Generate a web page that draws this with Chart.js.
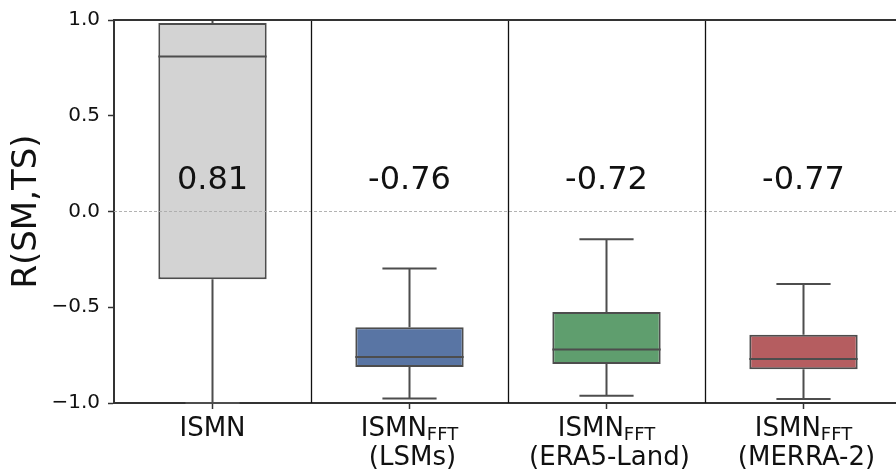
<!DOCTYPE html>
<html>
<head>
<meta charset="utf-8">
<script src="https://cdn.jsdelivr.net/npm/chart.js@4.4.0/dist/chart.umd.min.js"></script>
<style>
  html, body { margin: 0; padding: 0; background: #fff; overflow: hidden; }
  #wrap { width: 904px; height: 475px; }
</style>
</head>
<body>
<div id="wrap"><canvas id="chart" width="904" height="475"></canvas></div>
<script>
// box plot data
const categories = ['ISMN', 'ISMN', 'ISMN', 'ISMN'];
const subscripts = ['', 'FFT', 'FFT', 'FFT'];
const sources = ['', '(LSMs)', '(ERA5-Land)', '(MERRA-2)'];
const whiskerLow = [-1.0, -0.977, -0.962, -0.979];
const q1 = [-0.354, -0.812, -0.796, -0.824];
const medians = [0.81, -0.76, -0.72, -0.77];
const q3 = [0.984, -0.605, -0.525, -0.644];
const whiskerHigh = [1.0, -0.297, -0.145, -0.378];
const yTicks = [-1.0, -0.5, 0.0, 0.5, 1.0];

const boxColors = ['#d3d3d3', '#5975a4', '#5f9e6e', '#b55d60'];
const lineColor = '#4d4d4d';
const axisColor = '#333333';
const family = '"DejaVu Sans", sans-serif';
const annotY = 0.115; // baseline of the median labels, in data units

const boxPlot = {
  id: 'boxPlot',
  afterDatasetsDraw(chart) {
    const { ctx, chartArea, scales: { x, y } } = chart;
    const bars = chart.getDatasetMeta(0).data;
    ctx.save();

    // whiskers, caps and medians
    ctx.strokeStyle = lineColor;
    ctx.lineWidth = 2;
    bars.forEach((bar, i) => {
      const bx = bar.x, bw = bar.width;
      ctx.beginPath();
      ctx.moveTo(bx, y.getPixelForValue(q3[i]));
      ctx.lineTo(bx, y.getPixelForValue(whiskerHigh[i]));
      ctx.moveTo(bx - bw / 4, y.getPixelForValue(whiskerHigh[i]));
      ctx.lineTo(bx + bw / 4, y.getPixelForValue(whiskerHigh[i]));
      ctx.moveTo(bx, y.getPixelForValue(q1[i]));
      ctx.lineTo(bx, y.getPixelForValue(whiskerLow[i]));
      ctx.moveTo(bx - bw / 4, y.getPixelForValue(whiskerLow[i]));
      ctx.lineTo(bx + bw / 4, y.getPixelForValue(whiskerLow[i]));
      ctx.moveTo(bx - bw / 2, y.getPixelForValue(medians[i]));
      ctx.lineTo(bx + bw / 2, y.getPixelForValue(medians[i]));
      ctx.stroke();
    });

    // dashed zero line
    ctx.strokeStyle = '#aaaaaa';
    ctx.lineWidth = 0.9;
    ctx.setLineDash([3, 2]);
    ctx.beginPath();
    ctx.moveTo(chartArea.left, y.getPixelForValue(0));
    ctx.lineTo(chartArea.right, y.getPixelForValue(0));
    ctx.stroke();
    ctx.setLineDash([]);

    // separators between groups
    ctx.strokeStyle = '#111111';
    ctx.lineWidth = 1.3;
    for (let i = 0; i < categories.length; i++) {
      const sx = Math.round(x.getPixelForValue(i + 0.5)) + 0.5;
      ctx.beginPath();
      ctx.moveTo(sx, chartArea.top);
      ctx.lineTo(sx, chartArea.bottom);
      ctx.stroke();
    }

    // top spine
    ctx.strokeStyle = axisColor;
    ctx.lineWidth = 2;
    ctx.beginPath();
    ctx.moveTo(chartArea.left, chartArea.top);
    ctx.lineTo(chartArea.right, chartArea.top);
    ctx.stroke();

    // median labels
    ctx.fillStyle = '#111111';
    ctx.font = '32px ' + family;
    ctx.textAlign = 'center';
    ctx.textBaseline = 'alphabetic';
    medians.forEach((m, i) => {
      ctx.fillText(m.toFixed(2), x.getPixelForValue(i), y.getPixelForValue(annotY));
    });
    ctx.restore();
  },
  afterDraw(chart) {
    const { ctx, chartArea, scales: { x } } = chart;
    ctx.save();
    ctx.fillStyle = '#111111';
    ctx.textBaseline = 'alphabetic';
    categories.forEach((c, i) => {
      const cx = x.getPixelForValue(i);
      ctx.font = '26px ' + family;
      const wMain = ctx.measureText(c).width;
      ctx.font = '18px ' + family;
      const wSub = subscripts[i] ? ctx.measureText(subscripts[i]).width : 0;
      const start = cx - (wMain + wSub) / 2;
      ctx.textAlign = 'left';
      ctx.font = '26px ' + family;
      ctx.fillText(c, start, chartArea.bottom + 33);
      if (subscripts[i]) {
        ctx.font = '18px ' + family;
        ctx.fillText(subscripts[i], start + wMain, chartArea.bottom + 37);
      }
      if (sources[i]) {
        ctx.font = '26px ' + family;
        ctx.textAlign = 'center';
        ctx.fillText(sources[i], cx + 3, chartArea.bottom + 62);
      }
    });
    ctx.restore();
  }
};

const ctx = document.getElementById('chart').getContext('2d');
new Chart(ctx, {
  type: 'bar',
  data: {
    labels: categories.map((c, i) => (c + subscripts[i] + ' ' + sources[i]).trim()),
    datasets: [{
      data: q1.map((v, i) => [v, q3[i]]),
      backgroundColor: boxColors,
      borderColor: lineColor,
      borderWidth: 2,
      borderSkipped: false,
      barPercentage: 0.55,
      categoryPercentage: 1.0
    }]
  },
  options: {
    responsive: false,
    animation: false,
    events: [],
    layout: { padding: { top: 17, right: 2, left: 0, bottom: 0 } },
    plugins: { legend: { display: false }, tooltip: { enabled: false } },
    scales: {
      x: {
        afterFit: s => { s.height = 72; },
        grid: { offset: false, drawOnChartArea: false, tickLength: 6, tickColor: axisColor, tickWidth: 1.5 },
        border: { color: axisColor, width: 2 },
        ticks: { display: false }
      },
      y: {
        min: -1,
        max: 1,
        afterFit: s => { s.width = 114; },
        afterBuildTicks: s => { s.ticks = yTicks.map(v => ({ value: v })); },
        grid: { drawOnChartArea: false, tickLength: 6, tickColor: axisColor, tickWidth: 1.5 },
        border: { color: axisColor, width: 2 },
        ticks: {
          font: { family: family, size: 20 },
          color: '#111111',
          padding: 8,
          callback: v => v.toFixed(1).replace('-', '\u2212')
        },
        title: {
          display: true,
          text: 'R(SM,TS)',
          font: { family: family, size: 34 },
          color: '#111111',
          padding: { top: 7, bottom: 0 }
        }
      }
    }
  },
  plugins: [boxPlot]
});
</script>
</body>
</html>
